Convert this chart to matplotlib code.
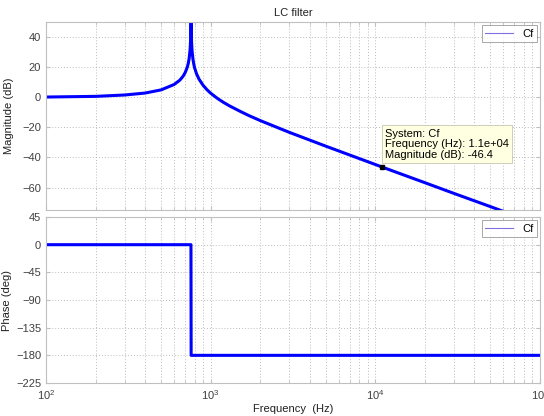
import matplotlib
matplotlib.use('Agg')
import matplotlib.pyplot as plt

plt.rcParams['font.family'] = ['Liberation Sans', 'DejaVu Sans']

freq_mag = [100, 200, 300, 400, 500, 600, 650, 680, 700, 720, 730, 740, 750, 755,
            758, 760, 762, 765, 770, 780, 790, 800, 820, 850, 900, 950, 1000,
            1100, 1200, 1300, 1500, 1700, 2000, 2500, 3000, 5000,
            10000, 11000, 20000, 30000, 50000, 100000]
mag_db = [0.15, 0.6, 1.5, 2.8, 4.9, 8.5, 11.4, 14.0, 16.4, 19.8, 22.2, 25.7, 31.7, 37.7,
          45.5, 80, 45.5, 37.6, 31.5, 25.5, 21.9, 19.3, 15.7, 12.0, 7.9, 5.0, 2.7,
          -0.8, -3.5, -5.7, -9.2, -12.1, -15.5, -19.8, -23.3, -32.5,
          -44.7, -46.4, -56.8, -63.9, -72.7, -84.8]

freq_ph = [100, 759, 761, 100000]
phase_deg = [0, 0, -180, -180]

tip_freq = 11000
tip_mag = -46.4

line_col = '#0000ff'
grid_col = '#bcbcbc'
spine_col = '#c0c0c0'
text_col = '#404040'

fig = plt.figure(figsize=(5.44, 4.16), dpi=100)
ax1 = fig.add_axes([0.0846, 0.495, 0.908, 0.452])
ax2 = fig.add_axes([0.0846, 0.0793, 0.908, 0.399])

ax1.semilogx(freq_mag, mag_db, color=line_col, lw=2.2, label='Cf')
ax2.semilogx(freq_ph, phase_deg, color=line_col, lw=2.2, label='Cf')

ax1.set_ylim(-75, 50)
ax1.set_yticks([-60, -40, -20, 0, 20, 40])
ax2.set_ylim(-225, 45)
ax2.set_yticks([-225, -180, -135, -90, -45, 0, 45])

for ax in (ax1, ax2):
    ax.set_xlim(100, 100000)
    ax.grid(True, which='both', color=grid_col, ls=(0, (1, 2)), lw=0.7)
    ax.tick_params(which='both', direction='in', labelsize=8, colors=spine_col,
                   labelcolor=text_col, top=True, right=True, length=3)
    ax.tick_params(which='minor', length=2)
    for s in ax.spines.values():
        s.set_color(spine_col)
    leg = ax.legend(loc='upper right', fontsize=8, handlelength=2.5,
                    fancybox=False, borderpad=0.3, borderaxespad=0.3)
    leg.get_frame().set_edgecolor('#808080')
    leg.get_frame().set_linewidth(0.6)
    leg.get_lines()[0].set_linewidth(0.8)
    leg.get_lines()[0].set_color('#8070e0')

ax1.tick_params(labelbottom=False)
ax1.set_title('LC filter', fontsize=8, color='#202020', pad=4)
ax1.set_ylabel('Magnitude (dB)', fontsize=8, color='#202020')
ax2.set_ylabel('Phase (deg)', fontsize=8, color='#202020')
ax1.yaxis.set_label_coords(-0.065, 0.5)
ax2.yaxis.set_label_coords(-0.068, 0.5)
ax2.set_xlabel('Frequency  (Hz)', fontsize=8, color='#202020', labelpad=2)

# data tip
ax1.plot([tip_freq], [tip_mag], marker='s', ms=3, color='black')
ax1.annotate('System: Cf\nFrequency (Hz): 1.1e+04\nMagnitude (dB): -46.4',
             xy=(tip_freq, tip_mag), xytext=(2, 5), textcoords='offset points',
             ha='left', va='bottom', fontsize=8, color='black', linespacing=1.1,
             bbox=dict(boxstyle='square,pad=0.3', fc='#ffffe1', ec='#c8c8b0', lw=0.6))

fig.savefig('out.png', dpi=100)
